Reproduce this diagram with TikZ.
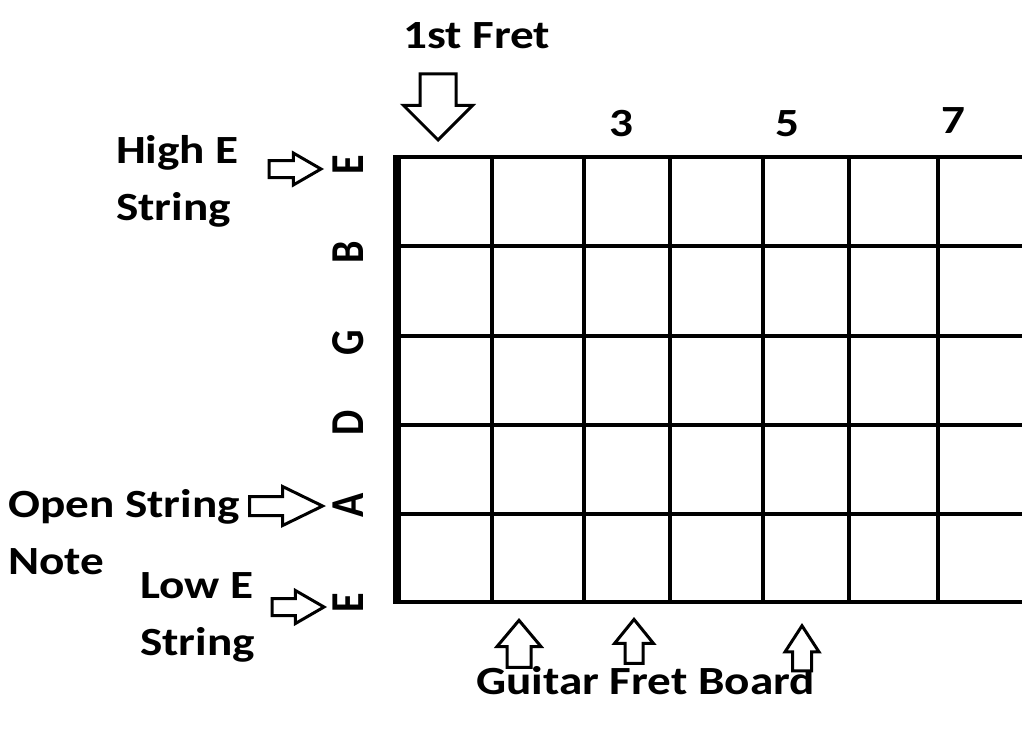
\documentclass[tikz,border=0pt]{standalone}
\usepackage{fontspec}
\setmainfont{Carlito}[FakeStretch=1.18]
\newfontfamily\notefont{Carlito}
\usetikzlibrary{shapes.arrows}

\begin{document}
\begin{tikzpicture}[x=1pt,y=-1pt]

	% Styles
	\tikzset{
		txt/.style={
			font=\fontsize{40}{57}\selectfont\bfseries,
			inner sep=0pt, align=left,
		},
		note/.style={
			font=\notefont\fontsize{40}{40}\selectfont\bfseries,
			inner sep=0pt, xscale=1.18, rotate=90,
		},
		pointer/.style n args={4}{
			single arrow, draw=black, line width=3pt, fill=white,
			inner xsep=0pt, inner ysep=#1/2,
			single arrow head extend=(#2-#1)/2,
			minimum height=#3, single arrow tip angle=#4,
			anchor=tip,
		},
		fret/.style={line width=4.5pt},
		nut/.style={line width=8pt},
	}

	\useasboundingbox (0,0) rectangle (1024,736);

	% Strings and frets
	\foreach \y in {157,246,336,425,514,602}
		\draw[fret] (397,\y) -- (1022,\y);
	\foreach \x in {492,584,670,763,849,938}
		\draw[fret] (\x,157) -- (\x,602);
	\draw[nut] (397,155) -- (397,604);

	% Open string notes
	\node[note] (strE) at (348,165) {E};
	\node[note] (strB) at (348,252) {B};
	\node[note] (strG) at (348,343) {G};
	\node[note] (strD) at (348,423) {D};
	\node[note] (strA) at (348,505) {A};
	\node[note] (strLowE) at (348,603) {E};

	% Labels (multi-line ones sit on their last baseline)
	\node[txt, anchor=base west] (fretOne) at (403,48) {1st Fret};
	\node[txt, anchor=base] (fretThree) at (621,136) {3};
	\node[txt, anchor=base] (fretFive) at (787,136) {5};
	\node[txt, anchor=base] (fretSeven) at (953,133) {7};
	\node[txt, anchor=base west] (highE) at (116,220) {High E\\String};
	\node[txt, anchor=base west] (openNote) at (8,574) {Open String\\Note};
	\node[txt, anchor=base west] (lowE) at (140,655) {Low E\\String};
	\node[txt, anchor=base west] (board) at (476,694) {Guitar Fret Board};

	% Pointers
	\node[pointer={33pt}{66pt}{66pt}{90}, rotate=-90] (ptrFret) at (438,142) {};
	\node[pointer={14pt}{29pt}{52pt}{60}] (ptrHighE) at (324,169) {};
	\node[pointer={16pt}{36pt}{73pt}{52}] (ptrOpen) at (326,506) {};
	\node[pointer={14pt}{30pt}{52pt}{60}] (ptrLowE) at (327,607) {};
	\node[pointer={21pt}{41pt}{47pt}{80}, rotate=90] (ptrBoardA) at (519,618) {};
	\node[pointer={15pt}{36pt}{44pt}{78}, rotate=90] (ptrBoardB) at (634,617) {};
	\node[pointer={16pt}{31pt}{45pt}{66}, rotate=90] (ptrBoardC) at (802,623) {};

\end{tikzpicture}
\end{document}
